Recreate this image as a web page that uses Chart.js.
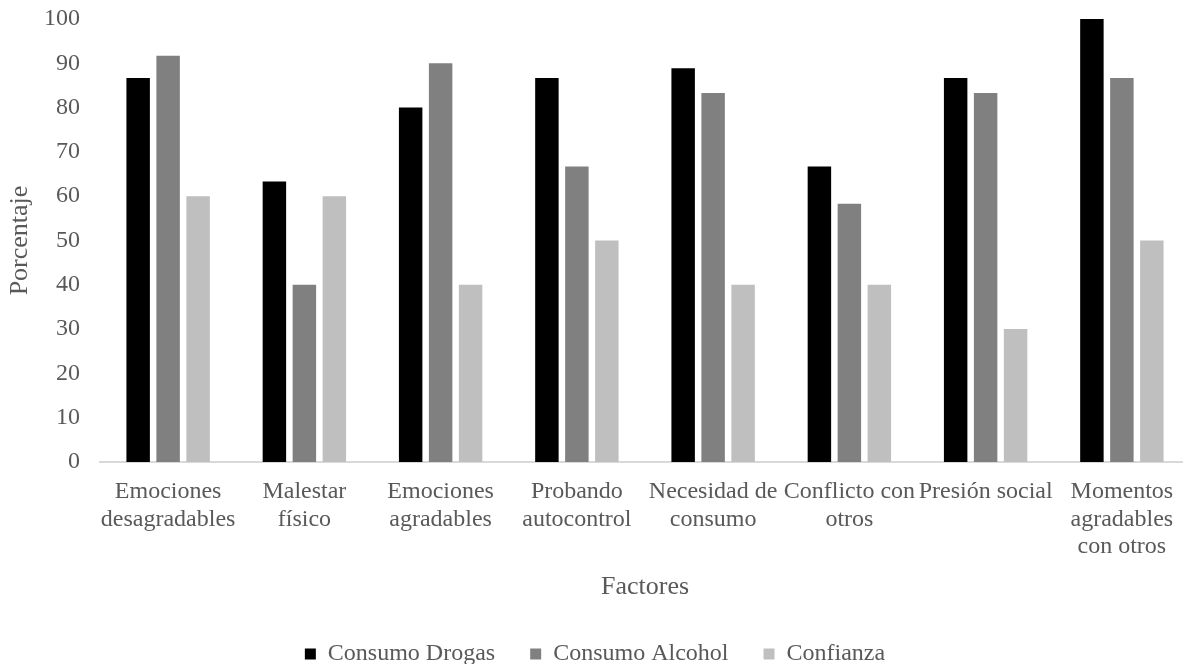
<!DOCTYPE html>
<html>
<head>
<meta charset="utf-8">
<script src="https://cdn.jsdelivr.net/npm/chart.js@4"></script>
<style>
    html, body { margin: 0; padding: 0; background: #fff; overflow: hidden; }
    #wrap { width: 1190px; height: 676px; }
</style>
</head>
<body>
<div id="wrap"><canvas id="chart0"></canvas></div>
<script>
// Factores y porcentajes por serie
const factores = [
    ['Emociones', 'desagradables'],
    ['Malestar', 'físico'],
    ['Emociones', 'agradables'],
    ['Probando', 'autocontrol'],
    ['Necesidad de', 'consumo'],
    ['Conflicto con', 'otros'],
    'Presión social',
    ['Momentos', 'agradables', 'con otros']
];
const consumoDrogas = [86.7, 63.3, 80, 86.7, 88.9, 66.7, 86.7, 100];
const consumoAlcohol = [91.7, 40, 90, 66.7, 83.3, 58.3, 83.3, 86.7];
const confianza = [60, 60, 40, 50, 40, 40, 30, 50];
const yTicks = [0, 10, 20, 30, 40, 50, 60, 70, 80, 90, 100];

const fuente = "'Liberation Serif', 'Times New Roman', serif";
const gris = '#595959';

const ctx = document.getElementById('chart0').getContext('2d');
const chart0 = new Chart(ctx, {
    type: 'bar',
    data: {
        labels: factores,
        datasets: [
            { label: 'Consumo Drogas', data: consumoDrogas, backgroundColor: '#000000' },
            { label: 'Consumo Alcohol', data: consumoAlcohol, backgroundColor: '#808080' },
            { label: 'Confianza', data: confianza, backgroundColor: '#bfbfbf' }
        ]
    },
    options: {
        responsive: true,
        maintainAspectRatio: false,
        animation: false,
        datasets: {
            bar: { categoryPercentage: 0.66, barPercentage: 0.783 }
        },
        layout: { padding: { top: 19, left: 0, right: 0, bottom: 0 } },
        plugins: {
            legend: {
                position: 'bottom',
                labels: {
                    boxWidth: 11,
                    boxHeight: 11,
                    padding: 35,
                    color: gris,
                    font: { family: fuente, size: 24 }
                }
            },
            tooltip: { enabled: false }
        },
        scales: {
            x: {
                afterFit: axis => { axis.height = 145; },
                grid: { display: false, drawTicks: false },
                border: { display: true, color: '#d9d9d9', width: 2 },
                ticks: {
                    color: gris,
                    padding: 16,
                    autoSkip: false,
                    maxRotation: 0,
                    minRotation: 0,
                    font: { family: fuente, size: 24, lineHeight: 1.15 }
                },
                title: {
                    display: true,
                    text: 'Factores',
                    color: gris,
                    padding: { top: 8.6, bottom: 4.4 },
                    font: { family: fuente, size: 26, lineHeight: 1.2 }
                }
            },
            y: {
                min: 0,
                max: 100,
                afterBuildTicks: axis => { axis.ticks = yTicks.map(v => ({ value: v })); },
                // ancho fijo del eje y sin margen extra arriba
                afterFit: axis => { axis.width = 100; axis.paddingTop = 0; },
                grid: { display: false, drawTicks: false },
                border: { display: false },
                ticks: {
                    color: gris,
                    padding: 20,
                    font: { family: fuente, size: 24 }
                },
                title: {
                    display: true,
                    text: 'Porcentaje',
                    color: gris,
                    padding: { top: 4.4, bottom: 8.4 },
                    font: { family: fuente, size: 26, lineHeight: 1.2 }
                }
            }
        }
    }
});
</script>
</body>
</html>
